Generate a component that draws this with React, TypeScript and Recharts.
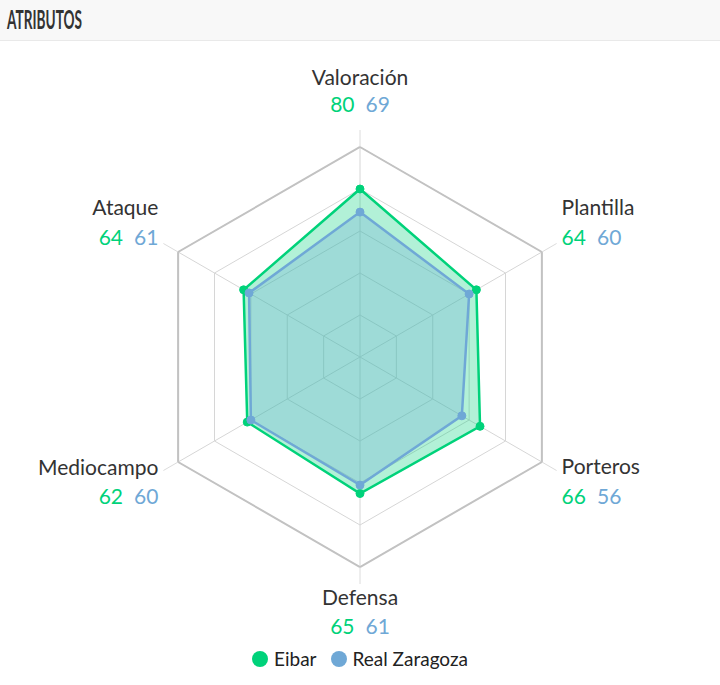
import React from 'react';
import { RadarChart, Radar, PolarGrid, PolarAngleAxis, PolarRadiusAxis, Legend } from 'recharts';

const categories = ['Valoración', 'Plantilla', 'Porteros', 'Defensa', 'Mediocampo', 'Ataque'];
const eibar = [80, 64, 66, 65, 62, 64];
const zaragoza = [69, 60, 56, 61, 60, 61];
const seriesNames = ['Eibar', 'Real Zaragoza'];
const radiusTicks = [0, 20, 40, 60, 80, 100];

const GREEN = '#00d27a';
const BLUE = '#6fa8d6';
const FONT = 'Lato, "Open Sans", sans-serif';

const data = categories.map((c, i) => ({ name: c, eibar: eibar[i], zaragoza: zaragoza[i] }));

const OUTER = 210;

const nameDy = [-54, -37, -5, 12, -4, -37];
const valDy = [-27, -8, 24, 41, 24, -8];

const Tick = (props: any) => {
  const { x, y, textAnchor, index } = props;
  const dx = textAnchor === 'start' ? 5 : textAnchor === 'end' ? -5 : 0;
  return (
    <g>
      <text x={x + dx} y={y + nameDy[index]} textAnchor={textAnchor} dominantBaseline="central"
        fontFamily={FONT} fontSize={21} fill="#333">
        {categories[index]}
      </text>
      <text x={x + dx} y={y + valDy[index]} textAnchor={textAnchor} dominantBaseline="central"
        fontFamily={FONT} fontSize={21}>
        <tspan fill={GREEN}>{eibar[index]}</tspan>
        <tspan fill={BLUE} dx={11}>{zaragoza[index]}</tspan>
      </text>
    </g>
  );
};

const LegendContent = () => (
  <div style={{ display: 'flex', justifyContent: 'center', alignItems: 'center', fontFamily: FONT, fontSize: 19, color: '#222' }}>
    <span style={{ display: 'inline-block', width: 16, height: 16, borderRadius: 8, background: GREEN, marginRight: 6 }} />
    <span style={{ marginRight: 14 }}>{seriesNames[0]}</span>
    <span style={{ display: 'inline-block', width: 16, height: 16, borderRadius: 8, background: BLUE, marginRight: 6 }} />
    <span>{seriesNames[1]}</span>
  </div>
);

export default function App() {
  return (
    <div style={{ position: 'absolute', left: 0, top: 0, width: 720, height: 685, background: '#fff', overflow: 'hidden' }}>
      <div style={{ position: 'absolute', left: 0, top: 0, width: 720, height: 40, background: '#f8f8f8', borderBottom: '1px solid #e9e9e9' }}>
        <svg width={200} height={40} style={{ position: 'absolute', left: 0, top: 0 }}>
          <text x={7} y={29} fontFamily={FONT} fontWeight={700} fontSize={26} fill="#333" textLength={75} lengthAdjust="spacingAndGlyphs">ATRIBUTOS</text>
        </svg>
      </div>
      <div style={{ position: 'absolute', left: 0, top: 0 }}>
        <RadarChart width={720} height={685} data={data} cx={360} cy={357} outerRadius={OUTER}
          margin={{ top: 0, right: 0, bottom: 0, left: 0 }}>
          <PolarGrid gridType="polygon" stroke="#d6d6d6" strokeWidth={1} />
          <PolarGrid gridType="polygon" radialLines={false} polarRadius={[OUTER]} stroke="#c2c2c2" strokeWidth={2} />
          <PolarRadiusAxis domain={[0, 100]} ticks={radiusTicks as any} tick={false} axisLine={false} />
          <PolarAngleAxis dataKey="name" tickSize={17} axisLine={false}
            tickLine={{ stroke: '#dcdcdc', strokeWidth: 1 }} tick={<Tick />} />
          <Radar name={seriesNames[0]} dataKey="eibar" stroke={GREEN} strokeWidth={2.5} fill={GREEN} fillOpacity={0.3}
            dot={{ r: 4, fill: GREEN, stroke: GREEN, strokeWidth: 1, fillOpacity: 1 }} isAnimationActive={false} />
          <Radar name={seriesNames[1]} dataKey="zaragoza" stroke={BLUE} strokeWidth={2.5} fill={BLUE} fillOpacity={0.3}
            dot={{ r: 4, fill: BLUE, stroke: BLUE, strokeWidth: 1, fillOpacity: 1 }} isAnimationActive={false} />
          <Legend content={<LegendContent />} wrapperStyle={{ top: 647, left: 0, width: 720 }} />
        </RadarChart>
      </div>
    </div>
  );
}
